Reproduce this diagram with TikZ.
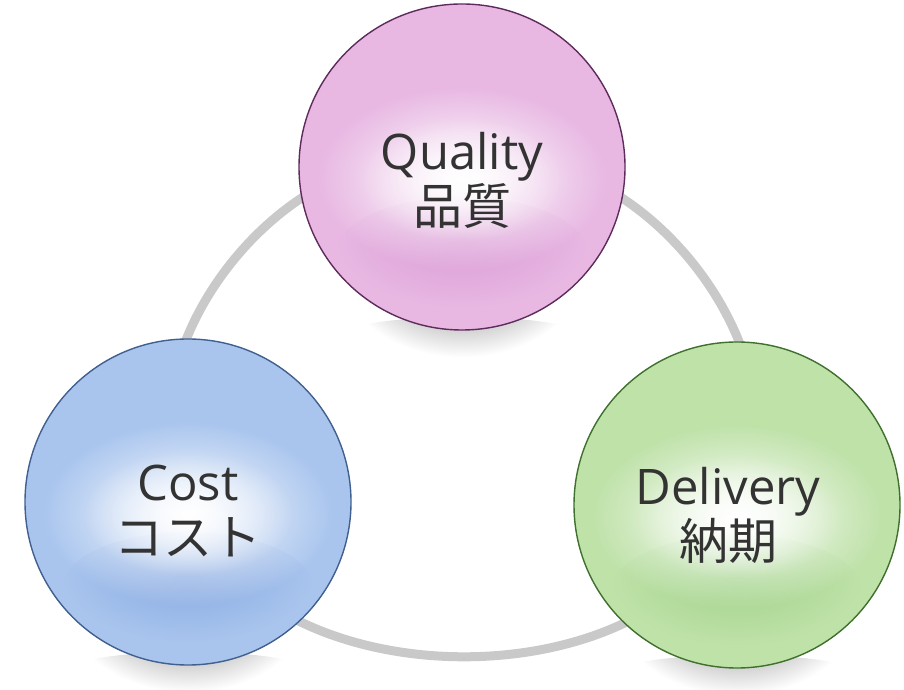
\documentclass[tikz,border=0pt]{standalone}
\usepackage{fontspec}
\setmainfont{Open Sans}
\newfontfamily\jpfont{Noto Sans CJK JP}
\usetikzlibrary{backgrounds,fadings}

\definecolor{qfill}{HTML}{E8B8E3}
\definecolor{qdark}{HTML}{DB9CD6}
\definecolor{qline}{HTML}{5E2C5C}
\definecolor{cfill}{HTML}{A9C5EE}
\definecolor{cdark}{HTML}{88AAE2}
\definecolor{cline}{HTML}{41608F}
\definecolor{dfill}{HTML}{BFE2A9}
\definecolor{ddark}{HTML}{A2D38A}
\definecolor{dline}{HTML}{3F702D}

\tikzfading[name=glow, inner color=transparent!0, outer color=transparent!100]

\tikzset{
  ball/.style={circle, line width=1.4pt, minimum size=326pt, inner sep=0pt},
  ring/.style={draw=black!21, line width=9pt},
  caption/.style={align=center, text=black!80, font=\fontsize{49}{55}\selectfont},
}

\begin{document}
\begin{tikzpicture}[x=1pt, y=1pt]
  \useasboundingbox (0,0) rectangle (904,690);

  \foreach \name/\pos/\fillc/\darkc/\linec in
      {quality/{462,523}/qfill/qdark/qline,
       cost/{188,188}/cfill/cdark/cline,
       delivery/{737,185}/dfill/ddark/dline}
  {
    % shadow, ball, bottom tint, light behind the text
    \fill[black!60, path fading=glow] (\pos) ++(0,-170) ellipse (125pt and 20pt);
    \node[ball, fill=\fillc, draw=\linec] (\name) at (\pos) {};
    \fill[\darkc, path fading=glow] (\pos) ++(0,-85) ellipse (125pt and 55pt);
    \fill[white, path fading=glow] (\pos) ++(0,-12) ellipse (145pt and 92pt);
    \fill[white, opacity=.8, path fading=glow] (\pos) ++(0,-12) ellipse (105pt and 62pt);
  }

  \begin{scope}[on background layer]
    \path[ring] (quality.center) to[bend right=68] (cost.center);
    \path[ring] (cost.center) to[bend right=72] (delivery.center);
    \path[ring] (quality.center) to[bend left=68] (delivery.center);
  \end{scope}

  \node[caption] at ([yshift=-13pt]quality) {Quality\\{\jpfont 品質}};
  \node[caption] at ([yshift=-9pt]cost) {Cost\\{\jpfont コスト}};
  \node[caption] at ([xshift=-9pt, yshift=-10pt]delivery) {Delivery\\{\jpfont 納期}};

\end{tikzpicture}
\end{document}
